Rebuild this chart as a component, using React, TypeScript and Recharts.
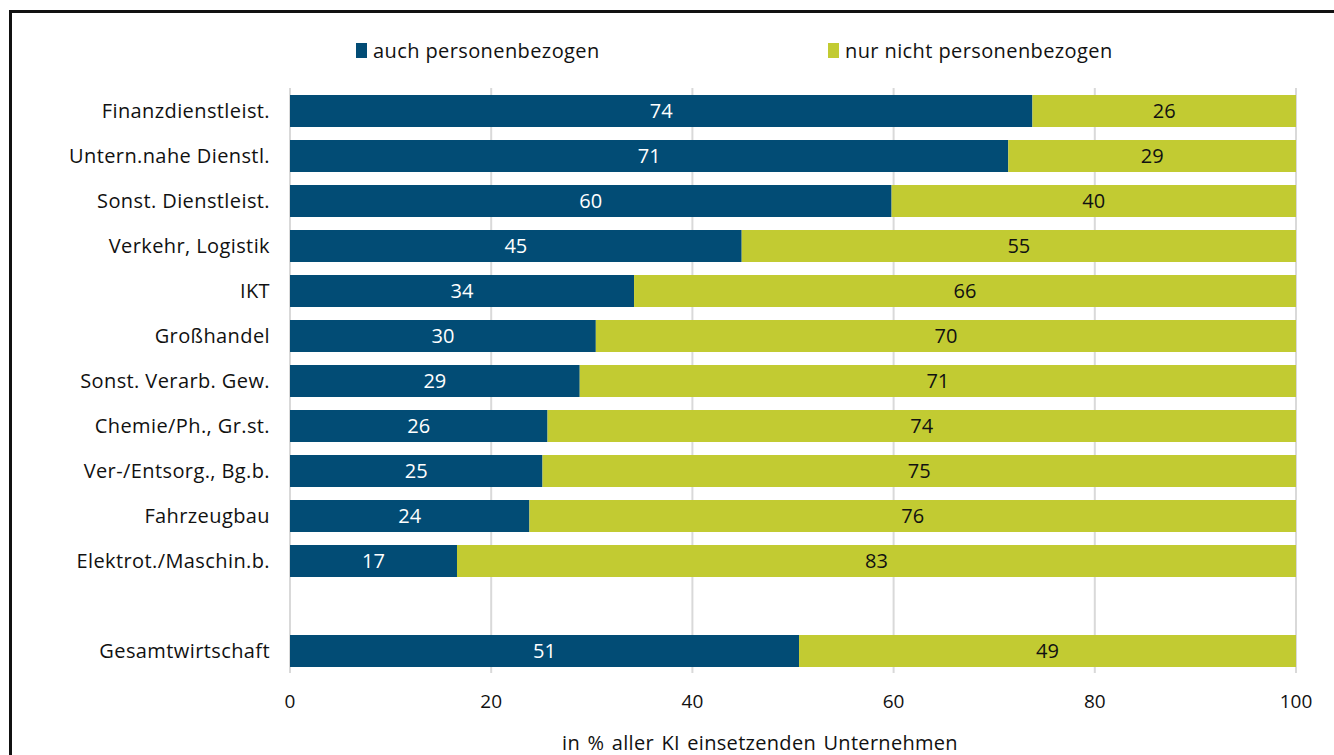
import React from 'react';
import { BarChart, Bar, XAxis, YAxis, CartesianGrid, LabelList, Label } from 'recharts';

const categories = [
  'Finanzdienstleist.',
  'Untern.nahe Dienstl.',
  'Sonst. Dienstleist.',
  'Verkehr, Logistik',
  'IKT',
  'Großhandel',
  'Sonst. Verarb. Gew.',
  'Chemie/Ph., Gr.st.',
  'Ver-/Entsorg., Bg.b.',
  'Fahrzeugbau',
  'Elektrot./Maschin.b.',
  '',
  'Gesamtwirtschaft',
];

// share of companies using AI with personal data (bar lengths)
const auchPersonenbezogen = [73.8, 71.4, 59.8, 44.9, 34.2, 30.4, 28.8, 25.6, 25.1, 23.8, 16.6, null, 50.6];
const nurNichtPersonenbezogen = [26.2, 28.6, 40.2, 55.1, 65.8, 69.6, 71.2, 74.4, 74.9, 76.2, 83.4, null, 49.4];

const xTicks = [0, 20, 40, 60, 80, 100];

const DARK = '#024C75';
const LIGHT = '#C2CB32';
const FONT = '"Open Sans", "Noto Sans", sans-serif';

const data = categories.map((name, i) => ({
  name,
  auch: auchPersonenbezogen[i],
  nur: nurNichtPersonenbezogen[i],
}));

const fmt = (v: any) => (v == null ? '' : Math.round(v));

const YTick = (props: any) => {
  const { y, payload } = props;
  return (
    <text x={290 - 20} y={y} dy="0.35em" textAnchor="end" fill="#111" fontSize={20} letterSpacing={0.4}>
      {payload.value}
    </text>
  );
};

export default function App() {
  return (
    <div style={{ position: 'fixed', left: 0, top: 0, width: 1334, height: 755, overflow: 'hidden', background: '#fff', fontFamily: FONT }}>
      <div
        style={{
          position: 'absolute',
          left: 9,
          top: 10,
          width: 1400,
          height: 800,
          borderTop: '3px solid #111',
          borderLeft: '3px solid #111',
        }}
      />
      <div style={{ position: 'absolute', left: 0, top: 0 }}>
        <BarChart
          width={1334}
          height={755}
          data={data}
          layout="vertical"
          margin={{ top: 88, right: 38, bottom: 0, left: 0 }}
          barSize={32}
          style={{ fontFamily: FONT }}
        >
          <CartesianGrid horizontal={false} stroke="#D9D9D9" strokeWidth={2} />
          <XAxis
            type="number"
            domain={[0, 100]}
            ticks={xTicks}
            axisLine={false}
            tickLine={false}
            tickSize={0}
            tickMargin={22}
            height={82}
            tick={{ fill: '#111', fontSize: 19 }}
          >
            <Label
              value="in % aller KI einsetzenden Unternehmen"
              position="insideBottom"
              offset={5}
              dx={-33}
              style={{ fill: '#111', fontSize: 20, wordSpacing: 2, letterSpacing: 0.3 }}
            />
          </XAxis>
          <YAxis
            type="category"
            dataKey="name"
            width={290}
            axisLine={false}
            tickLine={false}
            interval={0}
            tick={<YTick />}
          />
          <Bar dataKey="auch" stackId="a" fill={DARK} isAnimationActive={false}>
            <LabelList dataKey="auch" position="center" formatter={fmt} style={{ fill: '#fff', fontSize: 20 }} />
          </Bar>
          <Bar dataKey="nur" stackId="a" fill={LIGHT} isAnimationActive={false}>
            <LabelList dataKey="nur" position="center" formatter={fmt} style={{ fill: '#111', fontSize: 20 }} />
          </Bar>
        </BarChart>
      </div>
      <div style={{ position: 'absolute', left: 356, top: 37, display: 'flex', alignItems: 'center', fontSize: 20, letterSpacing: 0.4, color: '#111' }}>
        <span style={{ width: 11, height: 15, background: DARK, marginRight: 6, display: 'inline-block' }} />
        <span>auch personenbezogen</span>
      </div>
      <div style={{ position: 'absolute', left: 828, top: 37, display: 'flex', alignItems: 'center', fontSize: 20, letterSpacing: 0.4, color: '#111' }}>
        <span style={{ width: 11, height: 15, background: LIGHT, marginRight: 6, display: 'inline-block' }} />
        <span>nur nicht personenbezogen</span>
      </div>
    </div>
  );
}
